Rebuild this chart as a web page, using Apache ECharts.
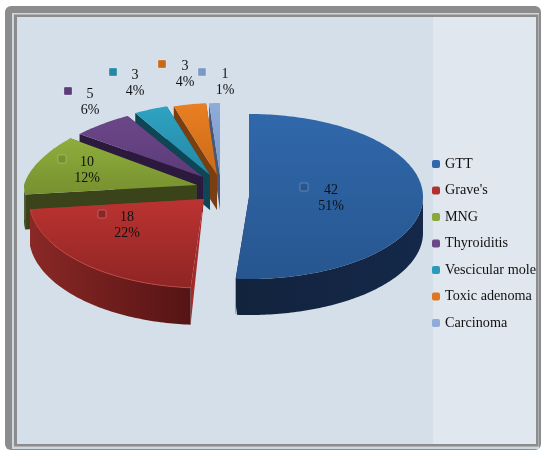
<!DOCTYPE html>
<html>
<head>
<meta charset="utf-8">
<style>
  html, body { margin: 0; padding: 0; background: #fff; }
  #chart { width: 543px; height: 451px; }
</style>
</head>
<body>
<div id="chart"></div>
<script src="https://cdn.jsdelivr.net/npm/echarts@6/dist/echarts.min.js"></script>
<script>
var categories = ['GTT', "Grave's", 'MNG', 'Thyroiditis', 'Vescicular mole', 'Toxic adenoma', 'Carcinoma'];
var values = [42, 18, 10, 5, 3, 3, 1];

// 顶面 / 侧面 / 切面颜色
var topColors = [['#3068ab', '#27568f'], ['#bb3331', '#8e2524'], ['#8fae3c', '#76902f'], ['#6c4788', '#5c3b78'], ['#2ea3c2', '#2488a4'], ['#ea7f22', '#c96a18'], ['#8eabda', '#7c98c6']];
var wallColors = [['#12233c', '#14284a'], ['#8a2826', '#551414'], ['#38401a', '#454f1e'], ['#2c1a3e', '#38224e'], ['#0e4656', '#135a6c'], ['#7a3e10', '#94501a'], ['#46597c', '#566c92']];
var cutColors = ['#12233c', '#a52b2a', '#3a4319', '#2c1a3e', '#0e4656', '#7a3e10', '#46597c'];
var legendColors = ['#3068ab', '#b03030', '#8aa83a', '#6c4788', '#2a9ab8', '#e0761f', '#8eabda'];

// 每块的分离位置（透视下后方的块更小）
var cx = [249, 204, 197, 203, 210, 217, 220];
var cy = [197, 199, 185, 177, 175, 175, 175];
var radiusX = [174, 175, 173, 173, 173, 173, 173];
var radiusUp = [83, 83, 77, 71, 72, 72, 72];
var radiusDown = [82, 89, 82, 82, 82, 82, 82];
var taper = [0, 0, 0.13, 0.17, 0.18, 0.18, 0.18];
var depth = [36, 37, 35, 35, 35, 35, 35];

// 数据标签位置
var markerPos = [[304, 187], [102, 214], [62, 159], [68, 91], [113, 72], [162, 64], [202, 72]];
var labelPos = [[331, 198], [127, 225], [87, 170], [90, 102], [135, 83], [185, 74], [225, 82]];

var total = values.reduce(function (a, b) { return a + b; }, 0);

function project(i, deg) {
  var a = deg * Math.PI / 180, s = Math.sin(a), c = Math.cos(a);
  var up = Math.max(c, 0);
  return [
    cx[i] + radiusX[i] * s * (1 - taper[i] * up),
    cy[i] - (c > 0 ? radiusUp[i] : radiusDown[i]) * c
  ];
}

function gradient(colors, horizontal) {
  return new echarts.graphic.LinearGradient(0, 0, horizontal ? 1 : 0, horizontal ? 0 : 1, [
    { offset: 0, color: colors[0] },
    { offset: 1, color: colors[1] }
  ]);
}

function renderSlice(i, from, to) {
  var apex = [cx[i], cy[i]];
  var arc = [], front = [];
  function drop(p) {
    return [p[0], p[1] + depth[i]];
  }
  for (var d = from; d <= to + 0.001; d += 1) {
    var p = project(i, d);
    arc.push(p);
    if (Math.cos(d * Math.PI / 180) < 0.02) front.push(p);
  }
  arc.push(project(i, to));
  var children = [];
  [arc[0], arc[arc.length - 1]].forEach(function (p) {
    // 红色块的切面在原图里是一个三角形
    var points = i === 1 ? [apex, p, drop(p)] : [apex, p, drop(p), drop(apex)];
    children.push({ type: 'polygon', shape: { points: points }, style: { fill: cutColors[i] } });
  });
  if (front.length > 1) {
    children.push({
      type: 'polygon',
      shape: { points: front.concat(front.slice().reverse().map(drop)) },
      style: { fill: gradient(wallColors[i], true) }
    });
  }
  children.push({
    type: 'polygon',
    shape: { points: [apex].concat(arc) },
    style: { fill: gradient(topColors[i], false) }
  });
  // 红色块边缘的高光
  if (i === 1) {
    children.push({ type: 'polyline', shape: { points: front }, style: { fill: null, stroke: '#bf4541', lineWidth: 1 } });
  }
  var m = markerPos[i], t = labelPos[i];
  children.push({
    type: 'rect',
    shape: { x: m[0] - 4, y: m[1] - 4, width: 8, height: 8, r: 1 },
    style: { fill: topColors[i][1], stroke: 'rgba(255,255,255,0.25)', lineWidth: 1 }
  });
  children.push({
    type: 'text',
    style: {
      x: t[0], y: t[1],
      text: values[i] + '\n' + Math.round(values[i] / total * 100) + '%',
      align: 'center', verticalAlign: 'middle',
      font: '14px "Liberation Serif"', lineHeight: 16, fill: '#111'
    }
  });
  return { type: 'group', children: children };
}

var start = 0;
var series = categories.map(function (name, i) {
  var from = start, to = start + values[i] / total * 360;
  start = to;
  return {
    name: name,
    type: 'custom',
    coordinateSystem: 'none',
    // 从后往前画
    z: 10 - i + (i < 2 ? 10 : 0),
    silent: true,
    itemStyle: { color: legendColors[i] },
    data: [[values[i]]],
    renderItem: function () { return renderSlice(i, from, to); }
  };
});

var chart = echarts.init(document.getElementById('chart'));
chart.setOption({
  animation: false,
  backgroundColor: '#ffffff',
  graphic: [
    { type: 'rect', z: -5, shape: { x: 5, y: 6, width: 536, height: 444, r: 6 }, style: { fill: '#8c8c8c' } },
    { type: 'rect', z: -4, shape: { x: 12, y: 13, width: 527, height: 436 }, style: { fill: '#ced6de' } },
    { type: 'rect', z: -3, shape: { x: 14, y: 14.5, width: 524.5, height: 432 }, style: { fill: '#8c8c8c' } },
    { type: 'rect', z: -2, shape: { x: 17, y: 17, width: 519, height: 427 }, style: { fill: '#e0e7ef' } },
    { type: 'rect', z: -1, shape: { x: 17, y: 17, width: 416, height: 427 }, style: { fill: '#d5dfe9' } }
  ],
  legend: {
    orient: 'vertical',
    left: 432,
    top: 156,
    padding: 0,
    data: categories,
    icon: 'roundRect',
    itemWidth: 8,
    itemHeight: 8,
    itemGap: 10.5,
    selectedMode: false,
    textStyle: { fontFamily: 'Liberation Serif', fontSize: 14.2, color: '#111', padding: [0, 0, 0, 0], lineHeight: 16 }
  },
  series: series
});
</script>
</body>
</html>
